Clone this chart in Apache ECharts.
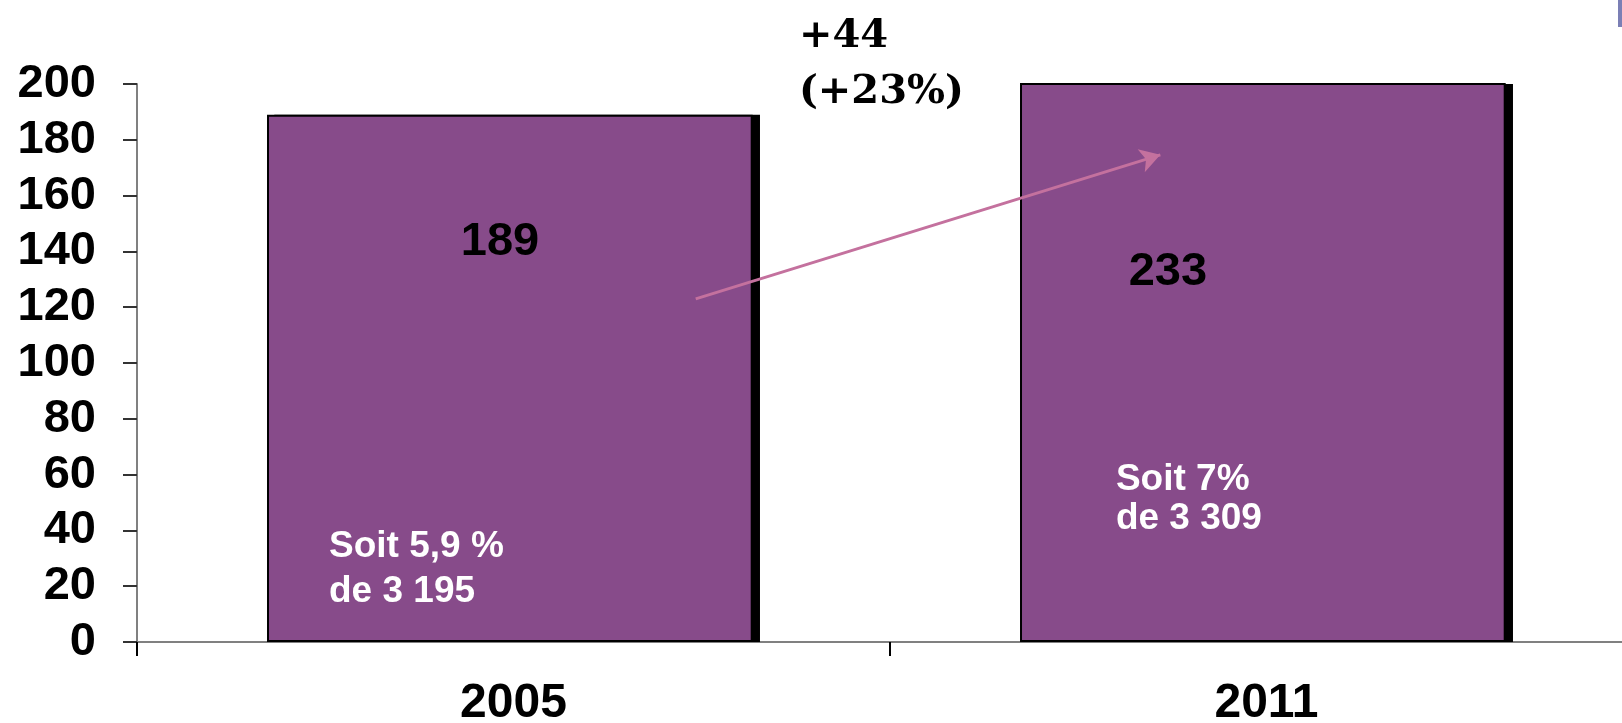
<!DOCTYPE html>
<html>
<head>
<meta charset="utf-8">
<script src="https://cdn.jsdelivr.net/npm/echarts@6/dist/echarts.min.js"></script>
<style>
  html, body { margin: 0; padding: 0; background: #fff; overflow: hidden; }
  /* plus large que la fenêtre : l'axe des x continue au-delà du bord droit */
  #chart { width: 1660px; height: 723px; }
</style>
</head>
<body>
<div id="chart"></div>
<script>
// données
const years = ['2005', '2011']
const values = [189, 233]
const yTicks = [0, 200, 20] // min, max, pas

// annotations (coordonnées de données : x de 0 à 2 sur la largeur de la grille)
const valueLabels = ['189', '233']
const valueLabelPos = [[0.482, 143.5], [1.369, 132.5]]
const shareLabels = ['Soit 5,9 %\nde 3 195', 'Soit 7%\nde 3 309']
const shareLabelPos = [[0.255, 26], [1.300, 51]]
const shareLineHeights = [45, 39]
const growthLabel = '+44\n(+23%)'
const growthLabelPos = [0.879, 207]
const arrowFrom = [0.742, 123]
const arrowTo = [1.359, 174.6]

const FONT = '"Liberation Sans", Arial, sans-serif'
const BAR = '#874B8A'

const chart = echarts.init(document.getElementById('chart'))

const markPoints = []
valueLabels.forEach((t, i) => {
  markPoints.push({
    coord: valueLabelPos[i],
    symbolSize: 0,
    label: {
      show: true, position: 'inside', formatter: t,
      color: '#000', fontSize: 47, fontWeight: 'bold', fontFamily: FONT
    }
  })
})
shareLabels.forEach((t, i) => {
  markPoints.push({
    coord: shareLabelPos[i],
    symbolSize: 0,
    label: {
      show: true, position: 'inside', formatter: t, align: 'left', verticalAlign: 'middle',
      color: '#fff', fontSize: 37, fontWeight: 'bold', fontFamily: FONT,
      lineHeight: shareLineHeights[i]
    }
  })
})

const option = {
  animation: false,
  backgroundColor: '#fff',
  grid: { left: 137, top: 84, bottom: 81, right: 17, outerBoundsMode: 'none', containLabel: false },
  xAxis: [
    {
      type: 'category',
      data: years,
      boundaryGap: true,
      axisLine: { show: true, lineStyle: { color: '#808080', width: 2 } },
      axisTick: { show: true, length: 14, lineStyle: { color: '#000', width: 2 } },
      axisLabel: {
        color: '#000', fontSize: 48, fontWeight: 'bold', fontFamily: FONT, margin: 38
      }
    },
    { type: 'value', min: 0, max: 2, show: false }
  ],
  yAxis: {
    type: 'value',
    min: yTicks[0],
    max: yTicks[1],
    interval: yTicks[2],
    axisLine: { show: true, lineStyle: { color: '#808080', width: 2 } },
    axisTick: { show: true, length: 14, lineStyle: { color: '#333', width: 2 } },
    splitLine: { show: false },
    axisLabel: {
      color: '#000', fontSize: 47, fontWeight: 'bold', fontFamily: FONT, margin: 41
    }
  },
  series: [
    {
      // barres violettes
      type: 'bar',
      data: values,
      barWidth: '64.5%',
      barGap: '-98.5%',
      z: 3,
      itemStyle: { color: BAR, borderColor: '#000', borderWidth: 2 }
    },
    {
      // ombre noire décalée à droite
      type: 'bar',
      data: values,
      barWidth: '64.5%',
      z: 2,
      silent: true,
      itemStyle: { color: '#000' }
    },
    {
      type: 'line',
      xAxisIndex: 1,
      data: [],
      silent: true,
      z: 5,
      markPoint: { symbol: 'circle', data: markPoints },
      markLine: {
        symbol: ['none', 'arrow'],
        symbolSize: [18, 20],
        silent: true,
        label: { show: false },
        lineStyle: { color: '#C4719E', width: 3, type: 'solid' },
        data: [[{ coord: arrowFrom }, { coord: arrowTo }]]
      }
    }
  ]
}

chart.setOption(option)

// texte au-dessus de la grille, placé avec l'échelle des axes
const gp = chart.convertToPixel({ xAxisIndex: 1, yAxisIndex: 0 }, growthLabelPos)
chart.setOption({
  graphic: [
    {
      type: 'text', x: gp[0], y: gp[1],
      style: {
        text: growthLabel, align: 'left', verticalAlign: 'middle',
        fill: '#000', fontSize: 40, fontWeight: 'bold',
        fontFamily: '"DejaVu Serif", "Liberation Serif", serif', lineHeight: 56
      }
    },
    { type: 'rect', left: 1618, top: 0, shape: { width: 4, height: 27 }, style: { fill: '#7B7FB5' } }
  ]
})
</script>
</body>
</html>
